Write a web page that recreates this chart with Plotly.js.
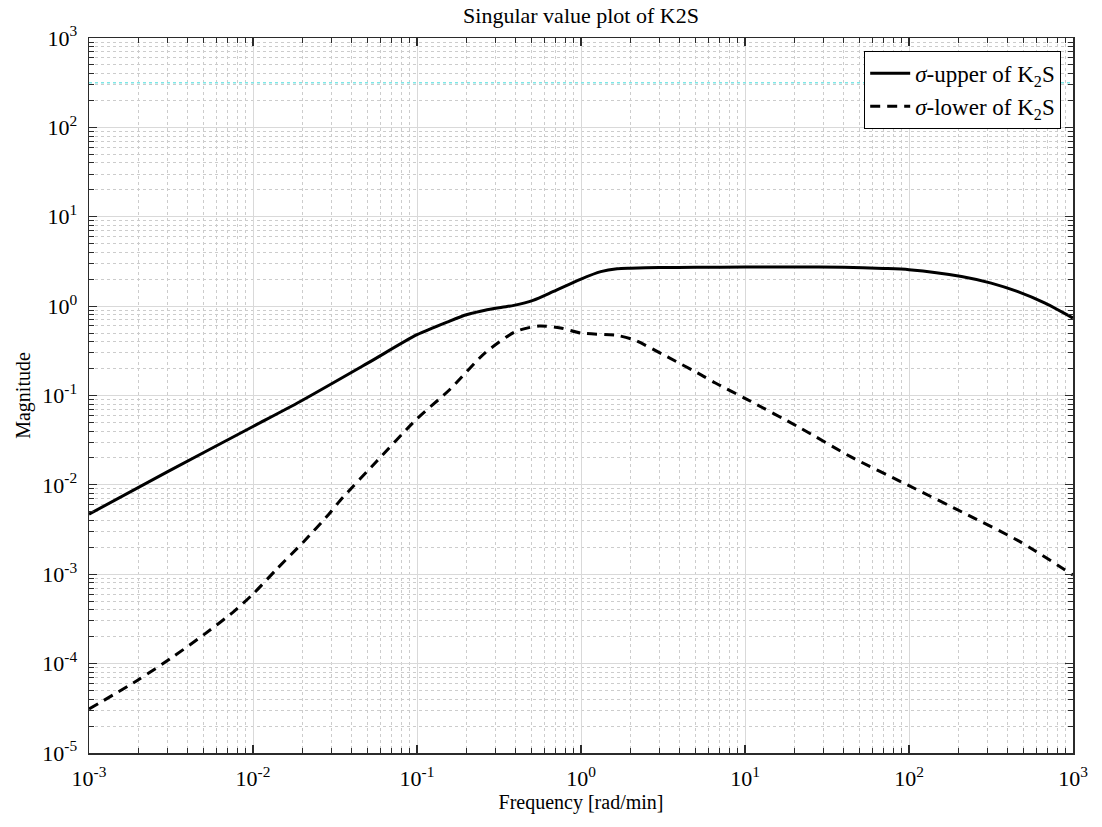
<!DOCTYPE html>
<html>
<head>
<meta charset="utf-8">
<script src="https://cdn.plot.ly/plotly-3.0.1.min.js"></script>
<style>html,body{margin:0;padding:0;background:#fff;}#chart{width:1102px;height:827px;}</style>
</head>
<body>
<div id="chart"></div>
<script>
// Upper singular value of K2S
const upperFreq = [0.001, 0.003, 0.01, 0.0194, 0.05, 0.1, 0.158, 0.2, 0.26, 0.33, 0.39, 0.51, 0.68, 1, 1.32, 1.66, 2, 3, 5, 10, 20, 40, 70, 100, 209, 317, 457, 676, 1000];
const upperMag  = [0.0047, 0.014, 0.045, 0.0857, 0.23, 0.479, 0.68, 0.80, 0.90, 0.97, 1.02, 1.16, 1.46, 2.01, 2.43, 2.62, 2.66, 2.70, 2.72, 2.74, 2.74, 2.72, 2.64, 2.56, 2.15, 1.81, 1.46, 1.08, 0.735];
// Lower singular value of K2S
const lowerFreq = [0.001, 0.002, 0.00327, 0.005, 0.0076, 0.01, 0.014, 0.0203, 0.029, 0.034, 0.057, 0.1, 0.158, 0.26, 0.40, 0.555, 0.75, 1, 1.66, 2.1, 3.37, 5.4, 6.6, 10, 21.9, 44, 100, 229, 478, 1000];
const lowerMag  = [3.1e-5, 6.6e-5, 1.2e-4, 2.1e-4, 3.8e-4, 6.0e-4, 1.15e-3, 2.3e-3, 4.7e-3, 6.7e-3, 0.0185, 0.055, 0.116, 0.30, 0.52, 0.60, 0.57, 0.50, 0.47, 0.42, 0.27, 0.17, 0.138, 0.093, 0.043, 0.0207, 0.0098, 0.0046, 0.0023, 0.00098];
// Faint cyan reference line
const refFreq = [0.001, 1000];
const refMag  = [316, 316];

const xTickVals = [1e-3, 1e-2, 1e-1, 1, 10, 100, 1000];
const xTickText = ['10<sup>-3</sup>','10<sup>-2</sup>','10<sup>-1</sup>','10<sup>0</sup>','10<sup>1</sup>','10<sup>2</sup>','10<sup>3</sup>'];
const yTickVals = [1e-5, 1e-4, 1e-3, 1e-2, 1e-1, 1, 10, 100, 1000];
const yTickText = ['10<sup>-5</sup>','10<sup>-4</sup>','10<sup>-3</sup>','10<sup>-2</sup>','10<sup>-1</sup>','10<sup>0</sup>','10<sup>1</sup>','10<sup>2</sup>','10<sup>3</sup>'];

const serif = 'Liberation Serif, Times New Roman, serif';

const traces = [
  {x: refFreq, y: refMag, mode: 'lines', showlegend: false, hoverinfo: 'skip',
   line: {color: '#7fe6e6', width: 1.6, dash: 'dot'}},
  {x: upperFreq, y: upperMag, mode: 'lines', name: '<i>σ</i>-upper of K<sub>2</sub>S',
   line: {color: '#000', width: 3, shape: 'spline', smoothing: 0.7}},
  {x: lowerFreq, y: lowerMag, mode: 'lines', name: '<i>σ</i>-lower of K<sub>2</sub>S',
   line: {color: '#000', width: 3, dash: '10px,7px', shape: 'spline', smoothing: 0.7}}
];

const axisCommon = {
  type: 'log',
  showline: true, linecolor: '#2b2b2b', linewidth: 1.5, mirror: 'allticks',
  ticks: 'inside', ticklen: 8, tickwidth: 1.2, tickcolor: '#2b2b2b',
  showgrid: true, gridcolor: '#d9d9d9', gridwidth: 1,
  zeroline: false,
  tickfont: {family: serif, size: 22, color: '#000'},
  minor: {dtick: 'D1', ticks: 'inside', ticklen: 5, tickwidth: 1, tickcolor: '#2b2b2b',
          showgrid: true, gridcolor: '#cccccc', griddash: 'dot', gridwidth: 1}
};

const layout = {
  width: 1102, height: 827,
  margin: {l: 89, r: 29, t: 38, b: 74},
  paper_bgcolor: '#fff', plot_bgcolor: '#fff',
  title: {text: 'Singular value plot of K2S', font: {family: serif, size: 22, color: '#000'},
          x: 0.5, xref: 'paper', y: 0.982, yref: 'container', yanchor: 'middle'},
  xaxis: Object.assign({}, axisCommon, {
    range: [-3, 3], tickvals: xTickVals, ticktext: xTickText, ticklabelstandoff: 5,
    title: {text: 'Frequency [rad/min]', font: {family: serif, size: 20, color: '#000'}, standoff: 0}
  }),
  yaxis: Object.assign({}, axisCommon, {
    range: [-5, 3], tickvals: yTickVals, ticktext: yTickText, ticklabelstandoff: 6,
    title: {text: 'Magnitude', font: {family: serif, size: 20, color: '#000'}, standoff: 6}
  }),
  legend: {x: 0.988, y: 0.982, xanchor: 'right', yanchor: 'top',
           bgcolor: '#fff', bordercolor: '#000', borderwidth: 1,
           font: {family: serif, size: 23, color: '#000'}, tracegroupgap: 0,
           itemwidth: 40},
  showlegend: true
};

Plotly.newPlot('chart', traces, layout, {displayModeBar: false, staticPlot: true});
</script>
</body>
</html>
